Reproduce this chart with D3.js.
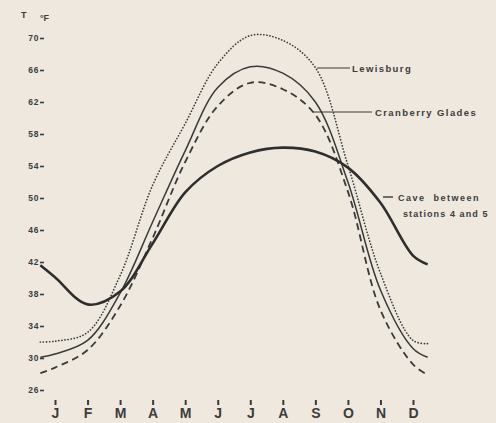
<!DOCTYPE html>
<html>
<head>
<meta charset="utf-8">
<script src="https://cdn.jsdelivr.net/npm/d3@7"></script>
<style>
  html, body { margin: 0; padding: 0; background: #eee8de; }
  svg { display: block; }
  text { font-family: "Liberation Sans", Arial, sans-serif; font-weight: bold; fill: #3c3c3c; }
</style>
</head>
<body>
<svg id="chart" width="496" height="423"></svg>
<script>
// ---- data ----
const monthLabels = ["J","F","M","A","M","J","J","A","S","O","N","D"];
const monthIndex = [0,1,2,3,4,5,6,7,8,9,10,11];
// sampling positions along the time axis (month index; curves run half a month past Jan and Dec)
const samplePos = [-0.45, 0, 1, 2, 3, 4, 5, 6, 7, 8, 9, 10, 11, 11.45];
const yTicks = [26,30,34,38,42,46,50,54,58,62,66,70];

// temperatures, degrees F
const lewisburg       = [32.0, 32.1, 33.2, 40.3, 51.6, 59.3, 66.8, 70.3, 69.7, 66.3, 54.1, 40.6, 32.2, 31.8];
const thinSolid       = [30.1, 30.5, 32.2, 38.1, 47.0, 55.9, 63.8, 66.4, 65.6, 62.0, 52.0, 38.5, 31.2, 30.1];
const cranberryGlades = [28.1, 28.8, 31.0, 36.5, 45.0, 54.5, 61.5, 64.4, 63.6, 60.4, 50.8, 36.0, 29.2, 27.9];
const cave            = [41.6, 40.1, 36.7, 38.3, 44.3, 50.7, 54.0, 55.7, 56.3, 55.8, 53.8, 49.4, 42.8, 41.7];

// ---- drawing ----
const svg = d3.select("#chart");
const ink = "#3a3a3a";

const x = d3.scaleLinear().domain([0, 11]).range([55, 413]);
const y = d3.scaleLinear().domain([26, 70]).range([390, 38]);

// y axis: labels with small dash
const yAxis = d3.axisLeft(y).tickValues(yTicks).tickSize(4).tickPadding(1).tickFormat(d => d);
const gy = svg.append("g").attr("transform", "translate(44,0)").call(yAxis);
gy.select(".domain").remove();
gy.selectAll(".tick line").attr("stroke", ink).attr("stroke-width", 1.6);
gy.selectAll(".tick text").style("font-size", "8.5px").style("letter-spacing", "0.6px").attr("fill", ink);

// x axis: month letters with short ticks
const xAxis = d3.axisBottom(x).tickValues(monthIndex).tickSize(5).tickPadding(3)
  .tickFormat((d, i) => monthLabels[i]);
const gx = svg.append("g").attr("transform", "translate(0,400)").call(xAxis);
gx.select(".domain").remove();
gx.selectAll(".tick line").attr("stroke", ink).attr("stroke-width", 2);
gx.selectAll(".tick text").style("font-size", "14px").attr("fill", ink);

// axis title T °F
svg.append("text").attr("x", 21).attr("y", 18).style("font-size", "9px").text("T");
svg.append("text").attr("x", 40).attr("y", 21).style("font-size", "9px").text("°F");

const line = d3.line()
  .x((d, i) => x(samplePos[i]))
  .y(d => y(d))
  .curve(d3.curveCatmullRom.alpha(0.5));

svg.append("path").datum(lewisburg).attr("d", line)
  .attr("fill", "none").attr("stroke", ink).attr("stroke-width", 1.7)
  .attr("stroke-dasharray", "0.1 3").attr("stroke-linecap", "round");

svg.append("path").datum(thinSolid).attr("d", line)
  .attr("fill", "none").attr("stroke", ink).attr("stroke-width", 1.5);

svg.append("path").datum(cranberryGlades).attr("d", line)
  .attr("fill", "none").attr("stroke", ink).attr("stroke-width", 1.8)
  .attr("stroke-dasharray", "7 4.5");

svg.append("path").datum(cave).attr("d", line)
  .attr("fill", "none").attr("stroke", "#2e2e2e").attr("stroke-width", 2.6);

// annotations
const ann = svg.append("g");
ann.append("line").attr("x1", 317).attr("x2", 350).attr("y1", 68).attr("y2", 68)
  .attr("stroke", ink).attr("stroke-width", 1.2);
ann.append("text").attr("x", 352).attr("y", 71.5).style("font-size", "9.5px")
  .style("letter-spacing", "1.4px").text("Lewisburg");

ann.append("line").attr("x1", 313).attr("x2", 372).attr("y1", 112).attr("y2", 112)
  .attr("stroke", ink).attr("stroke-width", 1.2);
ann.append("text").attr("x", 375).attr("y", 115.5).style("font-size", "9.5px")
  .style("letter-spacing", "1.4px").text("Cranberry Glades");

ann.append("line").attr("x1", 383).attr("x2", 393).attr("y1", 197).attr("y2", 197)
  .attr("stroke", ink).attr("stroke-width", 1.4);
ann.append("text").attr("x", 398).attr("y", 200.5).style("font-size", "9px")
  .style("letter-spacing", "1.5px").style("word-spacing", "4px").text("Cave between");
ann.append("text").attr("x", 403).attr("y", 216.5).style("font-size", "9px")
  .style("letter-spacing", "1.1px").text("stations 4 and 5");
</script>
</body>
</html>
